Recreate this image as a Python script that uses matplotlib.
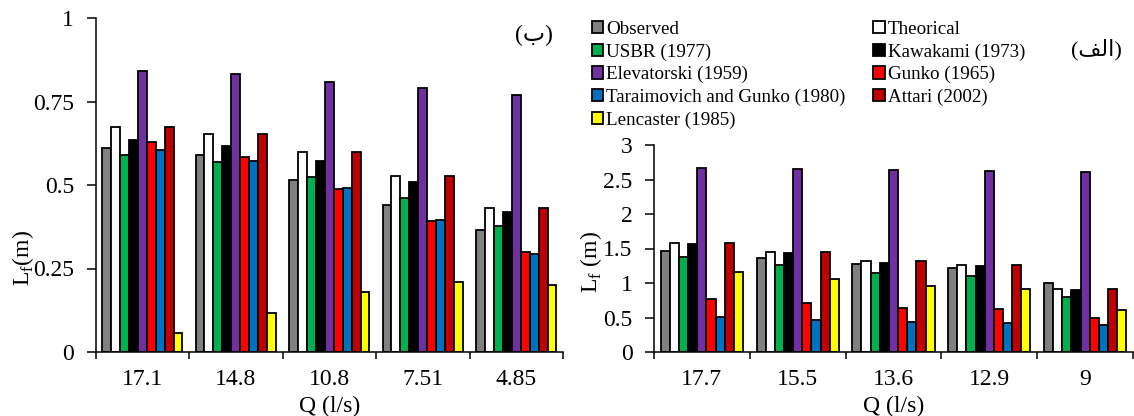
import numpy as np
import matplotlib
matplotlib.use('Agg')
import matplotlib.pyplot as plt

plt.rcParams['font.family'] = ['Liberation Serif', 'DejaVu Sans']
plt.rcParams['mathtext.fontset'] = 'custom'
plt.rcParams['mathtext.rm'] = 'Liberation Serif'

series_names = ['Observed', 'Theorical', 'USBR (1977)', 'Kawakami (1973)',
                'Elevatorski (1959)', 'Gunko (1965)', 'Taraimovich and Gunko (1980)',
                'Attari (2002)', 'Lencaster (1985)']
series_colors = ['#808080', '#FFFFFF', '#00B050', '#000000', '#7030A0',
                 '#FF0000', '#0070C0', '#C00000', '#FFFF00']

# panel (b) - left
q_b = ['17.1', '14.8', '10.8', '7.51', '4.85']
observed_b = [0.611, 0.589, 0.514, 0.440, 0.366]
theorical_b = [0.675, 0.652, 0.598, 0.527, 0.432]
usbr_b = [0.589, 0.570, 0.523, 0.461, 0.377]
kawakami_b = [0.636, 0.618, 0.573, 0.510, 0.420]
elevatorski_b = [0.842, 0.831, 0.809, 0.789, 0.770]
gunko_b = [0.629, 0.584, 0.489, 0.393, 0.298]
taraimovich_b = [0.605, 0.571, 0.490, 0.396, 0.294]
attari_b = [0.675, 0.652, 0.598, 0.527, 0.432]
lencaster_b = [0.057, 0.117, 0.180, 0.209, 0.201]

# panel (a) - right
q_a = ['17.7', '15.5', '13.6', '12.9', '9']
observed_a = [1.471, 1.359, 1.277, 1.224, 1.001]
theorical_a = [1.577, 1.447, 1.316, 1.263, 0.919]
usbr_a = [1.384, 1.268, 1.147, 1.108, 0.803]
kawakami_a = [1.563, 1.432, 1.297, 1.243, 0.905]
elevatorski_a = [2.661, 2.646, 2.637, 2.627, 2.603]
gunko_a = [0.764, 0.706, 0.643, 0.619, 0.493]
taraimovich_a = [0.508, 0.464, 0.440, 0.426, 0.387]
attari_a = [1.577, 1.447, 1.316, 1.263, 0.914]
lencaster_a = [1.161, 1.060, 0.958, 0.910, 0.605]

data_b = [observed_b, theorical_b, usbr_b, kawakami_b, elevatorski_b,
          gunko_b, taraimovich_b, attari_b, lencaster_b]
data_a = [observed_a, theorical_a, usbr_a, kawakami_a, elevatorski_a,
          gunko_a, taraimovich_a, attari_a, lencaster_a]

fig = plt.figure(figsize=(11.34, 4.16), dpi=100)
ax_b = fig.add_axes([95.5 / 1134, 1 - 352 / 416, 467.5 / 1134, 334 / 416])
ax_a = fig.add_axes([654 / 1134, 1 - 352 / 416, 479 / 1134, 207 / 416])

width = 0.0955


def draw_panel(ax, cats, data, ymax, yticks, yticklabels):
    x = np.arange(len(cats)) + 0.5
    bars = []
    for k, vals in enumerate(data):
        b = ax.bar(x + (k - 4) * width, vals, width, color=series_colors[k],
                   edgecolor='black', linewidth=1.3, label=series_names[k])
        bars.append(b)
    ax.set_xlim(0, len(cats))
    ax.set_ylim(0, ymax)
    ax.set_xticks(np.arange(len(cats) + 1))
    ax.set_xticklabels([])
    ax.set_xticks(x, minor=True)
    ax.set_xticklabels(cats, minor=True)
    ax.tick_params(axis='x', which='major', direction='out', length=5, width=1.1)
    ax.tick_params(axis='x', which='minor', length=0, pad=12, labelsize=17)
    ax.set_yticks(yticks)
    ax.set_yticklabels(yticklabels)
    ax.tick_params(axis='y', direction='out', length=6.5, width=1.1, pad=9, labelsize=17)
    ax.spines['top'].set_visible(False)
    ax.spines['right'].set_visible(False)
    ax.spines['left'].set_linewidth(1.1)
    ax.spines['bottom'].set_linewidth(1.1)
    return bars


bars_b = draw_panel(ax_b, q_b, data_b, 1.0, [0, 0.25, 0.5, 0.75, 1],
                    ['0', '0.25', '0.5', '0.75', '1'])
draw_panel(ax_a, q_a, data_a, 3.0, [0, 0.5, 1, 1.5, 2, 2.5, 3],
           ['0', '0.5', '1', '1.5', '2', '2.5', '3'])

ax_b.set_xlabel('Q (l/s)', fontsize=17)
ax_b.xaxis.set_label_coords(0.5, -0.132)
ax_b.set_ylabel(r'L$_\mathrm{f}$(m)', fontsize=17)
ax_b.yaxis.set_label_coords(-0.128, 0.28)

ax_a.set_xlabel('Q (l/s)', fontsize=17)
ax_a.xaxis.set_label_coords(0.5, -0.213)
ax_a.set_ylabel(r'L$_\mathrm{f}$ (m)', fontsize=17)
ax_a.yaxis.set_label_coords(-0.105, 0.436)

# panel letters (arabic, visual order)
fig.text(534 / 1134, 1 - 35 / 416, '(\u0628)', fontsize=17, ha='center', va='center')
fig.text(1096 / 1134, 1 - 50 / 416, '(\ufed2\ufedf\ufe8d)', fontsize=16, ha='center', va='center')

order = [0, 2, 4, 6, 8, 1, 3, 5, 7]
handles = [bars_b[i] for i in order]
labels = [series_names[i] for i in order]
fig.legend(handles, labels, loc='upper left', bbox_to_anchor=(592 / 1134, 1 - 21 / 416),
           ncol=2, frameon=False, fontsize=13.7, handlelength=0.6, handleheight=0.6,
           handletextpad=0.15, labelspacing=0.28, columnspacing=1.45,
           borderpad=0, borderaxespad=0)

plt.savefig('out.png', dpi=100)
